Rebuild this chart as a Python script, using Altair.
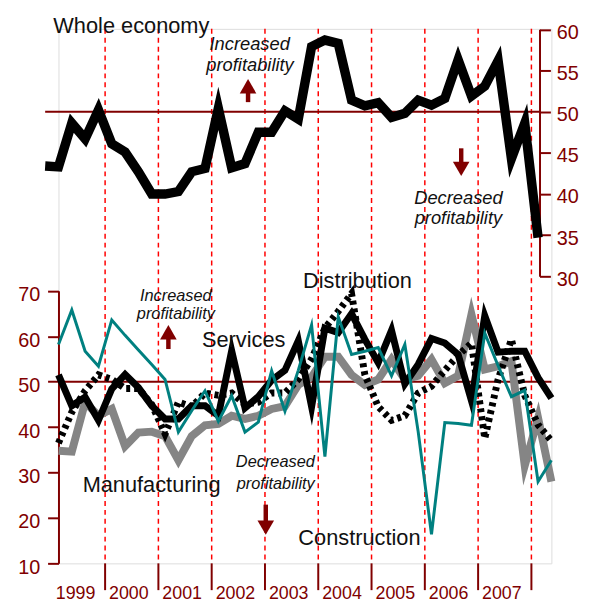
import altair as alt
import pandas as pd

DARK = "#800000"
RED = "#ff0000"
TEAL = "#008080"
GREY = "#858585"
FONT = "Liberation Sans"

# ---------------- data ----------------
quarters = [f"{y}Q{q}" for y in range(1999, 2009) for q in range(1, 5)][:38]   # 1999Q1 .. 2008Q2
whole_quarters = ["1998Q4"] + quarters[:37]                                      # 1998Q4 .. 2008Q1

whole_economy = [43.4, 43.3, 48.6, 46.7, 50.2, 46.1, 45.1, 42.7, 40.0, 40.0,
                 40.3, 42.7, 43.1, 50.4, 43.2, 43.7, 47.5, 47.5, 50.1, 49.1,
                 57.9, 58.7, 58.3, 51.4, 50.7, 51.1, 49.3, 49.8, 51.4, 50.8,
                 51.6, 56.3, 51.9, 53.1, 56.2, 44.3, 48.6, 34.7]

services = [51.5, 44.7, 46.6, 41.5, 48.4, 51.6, 48.7, 44.7, 41.8, 41.8,
            44.7, 44.7, 42.5, 56.8, 44.2, 46.7, 50.3, 52.5, 59.0, 44.5,
            61.8, 60.8, 65.0, 59.3, 54.2, 61.3, 49.5, 53.8, 59.5, 58.5,
            56.0, 45.8, 64.5, 56.5, 56.7, 56.7, 50.9, 46.4]

distribution = [36.5, 43.3, 48.0, 51.5, 50.5, 48.5, 48.5, 45.0, 38.5, 45.5,
                44.5, 47.5, 47.0, 47.5, 45.0, 45.5, 47.5, 47.5, 50.5, 55.0,
                61.8, 65.5, 69.4, 51.5, 44.5, 41.5, 42.5, 47.5, 49.0, 52.5,
                55.8, 58.5, 37.5, 50.5, 59.3, 47.0, 40.5, 37.0]

manufacturing = [34.8, 34.6, 45.5, 42.5, 44.0, 35.8, 38.8, 39.0, 38.0, 32.7,
                 38.0, 40.4, 40.7, 42.5, 41.8, 42.5, 44.0, 44.6, 49.3, 51.0,
                 55.5, 55.5, 51.5, 49.3, 50.5, 54.9, 50.5, 51.3, 54.9, 49.7,
                 51.3, 64.8, 52.7, 53.4, 54.5, 31.5, 42.0, 28.0]

construction = [58.2, 65.8, 56.7, 53.4, 63.6, 60.2, 57.0, 53.8, 50.5, 38.9,
                43.6, 48.0, 41.3, 46.9, 38.9, 41.1, 52.4, 43.5, 52.5, 62.5,
                33.5, 64.3, 56.0, 56.7, 57.5, 51.3, 58.2, 39.0, 16.4, 41.0,
                40.8, 40.4, 60.7, 53.5, 46.7, 48.1, 28.0, 32.7]

years = ["1999", "2000", "2001", "2002", "2003", "2004", "2005", "2006", "2007"]
boundary_years = ["2000", "2001", "2002", "2003", "2004", "2005", "2006", "2007", "2008"]
ref_level = 50
top_ticks = [30, 35, 40, 45, 50, 55, 60]
bottom_ticks = [10, 20, 30, 40, 50, 60, 70]


def qidx(label):
    y, q = label.split("Q")
    return (int(y) - 1999) * 4 + int(q) - 1


# ---------------- frames ----------------
df_whole = pd.DataFrame({"t": [qidx(q) for q in whole_quarters], "v": whole_economy})
df_bottom = pd.DataFrame({
    "t": [qidx(q) for q in quarters],
    "services": services,
    "distribution": distribution,
    "manufacturing": manufacturing,
    "construction": construction,
})
df_bound = pd.DataFrame({"b": [qidx(f"{y}Q1") - 0.5 for y in boundary_years]})
df_years = pd.DataFrame({"year": years, "b": [qidx(f"{y}Q1") - 0.5 for y in years]})
df_ref_top = pd.DataFrame({"x": [df_whole.t.min()], "x2": [df_whole.t.max() + 0.12], "y": [ref_level]})
df_ref_bot = pd.DataFrame({"x": [df_bottom.t.min()], "x2": [df_bottom.t.max()], "y": [ref_level]})

top_texts = pd.DataFrame([
    {"text": "Whole economy", "x": 5.47, "y": 60.45, "size": 22, "style": "normal"},
    {"text": "Increased", "x": 14.35, "y": 58.2, "size": 18.5, "style": "italic"},
    {"text": "profitability", "x": 14.38, "y": 55.7, "size": 18.5, "style": "italic"},
    {"text": "Decreased", "x": 30.02, "y": 39.45, "size": 18.5, "style": "italic"},
    {"text": "profitability", "x": 30.02, "y": 37.05, "size": 18.5, "style": "italic"},
])
bottom_texts = pd.DataFrame([
    {"text": "Increased", "x": 8.81, "y": 68.85, "size": 16.5, "style": "italic"},
    {"text": "profitability", "x": 8.81, "y": 64.93, "size": 16.5, "style": "italic"},
    {"text": "Services", "x": 13.9, "y": 59.2, "size": 22, "style": "normal"},
    {"text": "Manufacturing", "x": 6.99, "y": 27.15, "size": 22, "style": "normal"},
    {"text": "Decreased", "x": 16.28, "y": 32.3, "size": 16.5, "style": "italic"},
    {"text": "profitability", "x": 16.31, "y": 27.5, "size": 16.5, "style": "italic"},
    {"text": "Distribution", "x": 22.44, "y": 72.25, "size": 22, "style": "normal"},
    {"text": "Construction", "x": 22.59, "y": 15.6, "size": 22, "style": "normal"},
])
arrows_top = pd.DataFrame([
    {"x": 14.23, "head": 53.09, "s1": 52.48, "s2": 51.16, "shape": "triangle-up"},
    {"x": 30.23, "head": 43.05, "s1": 45.55, "s2": 43.83, "shape": "triangle-down"},
])
arrows_bot = pd.DataFrame([
    {"x": 8.25, "head": 60.89, "s1": 59.48, "s2": 57.19, "shape": "triangle-up"},
    {"x": 15.56, "head": 17.85, "s1": 22.93, "s2": 19.15, "shape": "triangle-down"},
])

# ---------------- scales ----------------
XS = alt.Scale(domain=[0, 37], nice=False, zero=False)
TOP = alt.Scale(domain=[30, 60], range=[250, 0.5], nice=False, zero=False)
BOT = alt.Scale(domain=[10, 70], range=[540, 264.7], nice=False, zero=False)


def X(field, axis=None):
    return alt.X(field, type="quantitative", scale=XS, axis=axis, title=None)


def YT(field, axis=None):
    return alt.Y(field, type="quantitative", scale=TOP, axis=axis, title=None)


def YB(field, axis=None):
    return alt.Y(field, type="quantitative", scale=BOT, axis=axis, title=None)


x_axis = alt.Axis(values=list(range(38)), tickSize=8, tickWidth=1.5, tickColor=DARK,
                  domainColor=DARK, domainWidth=2, labels=False, grid=False, title=None)
top_axis = alt.Axis(orient="right", offset=-12, values=top_ticks, tickSize=11, tickWidth=2,
                    tickColor=DARK, domainColor=DARK, domainWidth=2, labelColor=DARK,
                    labelFontSize=20, labelFont=FONT, labelPadding=6, labelOffset=3,
                    grid=False, title=None)
bot_axis = alt.Axis(orient="left", values=bottom_ticks, tickSize=11, tickWidth=2,
                    tickColor=DARK, domainColor=DARK, domainWidth=2, labelColor=DARK,
                    labelFontSize=20, labelFont=FONT, labelPadding=8, labelOffset=4,
                    grid=False, title=None)

line_style = dict(strokeJoin="miter", strokeCap="butt", strokeMiterLimit=8)

dashes = alt.Chart(df_bound).mark_rule(color=RED, strokeDash=[5, 4], strokeWidth=1.5).encode(x=X("b"))

ref_top = alt.Chart(df_ref_top).mark_rule(color=DARK, strokeWidth=2).encode(
    x=X("x"), x2="x2", y=YT("y"))
ref_bot = alt.Chart(df_ref_bot).mark_rule(color=DARK, strokeWidth=2).encode(
    x=X("x"), x2="x2", y=YB("y"))

whole = alt.Chart(df_whole).mark_line(color="black", strokeWidth=9.5, **line_style).encode(
    x=X("t"), y=YT("v", top_axis))

manu = alt.Chart(df_bottom).mark_line(color=GREY, strokeWidth=8, **line_style).encode(
    x=X("t"), y=YB("manufacturing"))
serv = alt.Chart(df_bottom).mark_line(color="black", strokeWidth=7, **line_style).encode(
    x=X("t", x_axis), y=YB("services", bot_axis))
dist = alt.Chart(df_bottom).mark_line(color="black", strokeWidth=7, strokeDash=[4, 4],
                                       **line_style).encode(
    x=X("t"), y=YB("distribution"))
cons = alt.Chart(df_bottom).mark_line(color=TEAL, strokeWidth=3, **line_style).encode(
    x=X("t"), y=YB("construction"))

major_ticks = alt.Chart(df_bound).transform_calculate(y0="10", y1="4.1").mark_rule(
    color=DARK, strokeWidth=2).encode(x=X("b"), y=YB("y0:Q"), y2="y1:Q")

year_labels = alt.Chart(df_years).transform_calculate(y="2.1").mark_text(
    align="left", baseline="alphabetic", dx=4, font=FONT, fontSize=18, color=DARK).encode(
    x=X("b"), y=YB("y:Q"), text="year")


def texts(df, Yf):
    layers = []
    for style in ["normal", "italic"]:
        for size in sorted(df["size"].unique()):
            sub = df[(df["style"] == style) & (df["size"] == size)]
            if len(sub) == 0:
                continue
            layers.append(alt.Chart(sub).mark_text(
                align="center", baseline="middle", font=FONT, fontSize=float(size),
                fontStyle=style, color="#111111").encode(x=X("x"), y=Yf("y"), text="text"))
    return layers


def arrows(df, Yf):
    shaft = alt.Chart(df).mark_rule(color=DARK, strokeWidth=4.5).encode(
        x=X("x"), y=Yf("s1"), y2="s2")
    head = alt.Chart(df).mark_point(filled=True, color=DARK, size=280, opacity=1).encode(
        x=X("x"), y=Yf("head"), shape=alt.Shape("shape:N", scale=None, legend=None))
    return [shaft, head]


layers = ([dashes, ref_top, ref_bot, whole, manu, serv, dist, cons, major_ticks, year_labels]
          + texts(top_texts, YT) + texts(bottom_texts, YB)
          + arrows(arrows_top, YT) + arrows(arrows_bot, YB))

chart = alt.layer(*layers).resolve_scale(y="independent").properties(
    width=498, height=540,
    autosize=alt.AutoSizeParams(type="none"),
    padding={"left": 51, "top": 18, "right": 38, "bottom": 40},
).configure_view(stroke=None).configure(background="white")

chart.save("out.html", embed_options={"renderer": "svg", "actions": False})
